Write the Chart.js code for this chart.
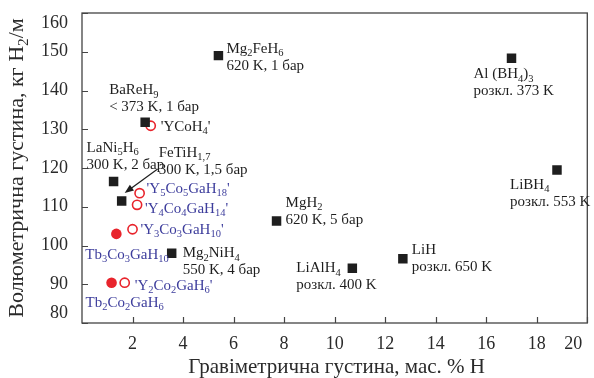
<!DOCTYPE html>
<html>
<head>
<meta charset="utf-8">
<script src="https://cdn.jsdelivr.net/npm/chart.js@4.4.1/dist/chart.umd.min.js"></script>
<style>
  html, body { margin: 0; padding: 0; background: #fff; }
  #chart { display: block; }
</style>
</head>
<body>
<canvas id="chart" width="594" height="378"></canvas>
<script>
// Known hydrides (black squares)
var hydrideNames = ['Mg_{2}FeH_{6}', 'Al (BH_{4})_{3}', 'BaReH_{9}', 'LaNi_{5}H_{6}', 'FeTiH_{1,7}',
                    'Mg_{2}NiH_{4}', 'MgH_{2}', 'LiAlH_{4}', 'LiH', 'LiBH_{4}'];
var hydrideNotes = ['620 K, 1 бар', 'розкл. 373 K', '< 373 K, 1 бар', '300 K, 2 бар', '300 K, 1,5 бар',
                    '550 K, 4 бар', '620 K, 5 бар', 'розкл. 400 K', 'розкл. 650 K', 'розкл. 553 K'];
var hydrideWt  = [5.4, 17.0, 2.5, 1.25, 1.57, 3.55, 7.7, 10.7, 12.7, 18.8];
var hydrideVol = [149, 148.3, 131.8, 116.5, 111.5, 98, 106.3, 94.1, 96.6, 119.5];

// Y-Co(-Ga) hydrides (open red circles)
var yNames = ["'YCoH_{4}'", "'Y_{5}Co_{5}GaH_{18}'", "'Y_{4}Co_{4}GaH_{14}'", "'Y_{3}Co_{3}GaH_{10}'", "'Y_{2}Co_{2}GaH_{6}'"];
var yWt  = [2.72, 2.28, 2.18, 2.0, 1.69];
var yVol = [130.9, 113.5, 110.5, 104.2, 90.4];

// Tb-Co-Ga hydrides (filled red circles)
var tbNames = ['Tb_{3}Co_{3}GaH_{10}', 'Tb_{2}Co_{2}GaH_{6}'];
var tbWt  = [1.36, 1.17];
var tbVol = [103, 90.4];

var xTicks = [2, 4, 6, 8, 10, 12, 14, 16, 18, 20];
var yTicks = [80, 90, 100, 110, 120, 130, 140, 150, 160];

var xTitle = 'Гравіметрична густина, мас. % H';
var yTitle = 'Волюметрична густина, кг H_{2}/м';

// label placement (offset of first line from the marker, px)
var hydrideLabelPos = [[8,-8],[-38,15],[-36,-33],[-27,-35],[37,-49],[11,-1],[9,-19],[-56,-1],[9,-10],[-47,14]];
var yLabelPos = [[10,0],[7,-5],[8,3],[8,0],[10,2]];
var tbLabelPos = [[-31,20],[-26,19]];

var SERIF = '"Liberation Serif", "DejaVu Serif", serif';
var BLUE = '#3d3d9c';
var RED = '#e8242c';
var INK = '#1e1e1e';

function toPoints(xs, ys) {
  return xs.map(function (x, i) { return { x: x, y: ys[i] }; });
}

// text with _{...} subscripts
function parseRich(s) {
  var parts = [], re = /_\{([^}]*)\}/g, last = 0, m;
  while ((m = re.exec(s))) {
    if (m.index > last) parts.push({ t: s.slice(last, m.index), sub: false });
    parts.push({ t: m[1], sub: true });
    last = re.lastIndex;
  }
  if (last < s.length) parts.push({ t: s.slice(last), sub: false });
  return parts;
}
function richWidth(ctx, s, size) {
  var w = 0;
  parseRich(s).forEach(function (p) {
    ctx.font = (p.sub ? size * 0.7 : size) + 'px ' + SERIF;
    w += ctx.measureText(p.t).width;
  });
  return w;
}
function drawRich(ctx, s, x, y, size, color, align) {
  var w = richWidth(ctx, s, size);
  if (align === 'center') x -= w / 2;
  var base = y + size * 0.33;
  ctx.fillStyle = color;
  ctx.textAlign = 'left';
  ctx.textBaseline = 'alphabetic';
  parseRich(s).forEach(function (p) {
    ctx.font = (p.sub ? size * 0.7 : size) + 'px ' + SERIF;
    ctx.fillText(p.t, x, p.sub ? base + size * 0.22 : base);
    x += ctx.measureText(p.t).width;
  });
}

var decorPlugin = {
  id: 'decor',
  beforeDatasetsDraw: function (chart) {
    var ctx = chart.ctx, a = chart.chartArea;
    var xs = chart.scales.x, ys = chart.scales.y;
    ctx.save();
    ctx.strokeStyle = '#444';
    ctx.lineWidth = 1.3;
    ctx.strokeRect(a.left, a.top, a.right - a.left, a.bottom - a.top);
    ctx.lineWidth = 1.2;
    ctx.beginPath();
    xTicks.forEach(function (v) {
      var px = Math.round(xs.getPixelForValue(v)) + 0.5;
      ctx.moveTo(px, a.bottom); ctx.lineTo(px, a.bottom - 6);
    });
    yTicks.forEach(function (v) {
      var py = Math.round(ys.getPixelForValue(v)) + 0.5;
      ctx.moveTo(a.left, py); ctx.lineTo(a.left + 6, py);
    });
    ctx.stroke();

    // tick labels
    ctx.font = '18px ' + SERIF;
    ctx.fillStyle = '#2a2a2a';
    ctx.textBaseline = 'middle';
    ctx.textAlign = 'center';
    xTicks.forEach(function (v) {
      var px = Math.min(xs.getPixelForValue(v), a.right - 14);
      ctx.fillText(String(v), px, a.bottom + 21);
    });
    ctx.textAlign = 'right';
    yTicks.forEach(function (v) {
      var py = Math.max(a.top + 10, Math.min(a.bottom - 10, ys.getPixelForValue(v)));
      ctx.fillText(String(v), a.left - 14, py);
    });

    // axis titles
    drawRich(ctx, xTitle, (a.left + a.right) / 2 + 2, 366, 21, '#2a2a2a', 'center');
    ctx.save();
    ctx.translate(16, (a.top + a.bottom) / 2);
    ctx.rotate(-Math.PI / 2);
    drawRich(ctx, yTitle, 0, 0, 22, '#2a2a2a', 'center');
    ctx.restore();
    ctx.restore();
  },
  afterDatasetsDraw: function (chart) {
    var ctx = chart.ctx;
    ctx.save();
    // hydride labels, two lines
    chart.getDatasetMeta(0).data.forEach(function (pt, i) {
      var x = pt.x + hydrideLabelPos[i][0], y = pt.y + hydrideLabelPos[i][1];
      drawRich(ctx, hydrideNames[i], x, y, 15, INK, 'left');
      drawRich(ctx, hydrideNotes[i], x, y + 17, 15, INK, 'left');
    });
    chart.getDatasetMeta(1).data.forEach(function (pt, i) {
      drawRich(ctx, yNames[i], pt.x + yLabelPos[i][0], pt.y + yLabelPos[i][1], 15, i === 0 ? INK : BLUE, 'left');
    });
    chart.getDatasetMeta(2).data.forEach(function (pt, i) {
      drawRich(ctx, tbNames[i], pt.x + tbLabelPos[i][0], pt.y + tbLabelPos[i][1], 15, BLUE, 'left');
    });

    // arrow to FeTiH1,7
    var fe = chart.getDatasetMeta(0).data[4];
    var x0 = fe.x + 36, y0 = fe.y - 32, x1 = fe.x + 3, y1 = fe.y - 8;
    var ang = Math.atan2(y1 - y0, x1 - x0);
    ctx.strokeStyle = INK;
    ctx.fillStyle = INK;
    ctx.lineWidth = 1.2;
    ctx.beginPath();
    ctx.moveTo(x0, y0);
    ctx.lineTo(x1 - 6 * Math.cos(ang), y1 - 6 * Math.sin(ang));
    ctx.stroke();
    ctx.beginPath();
    ctx.moveTo(x1, y1);
    ctx.lineTo(x1 - 9 * Math.cos(ang) + 3.5 * Math.sin(ang), y1 - 9 * Math.sin(ang) - 3.5 * Math.cos(ang));
    ctx.lineTo(x1 - 9 * Math.cos(ang) - 3.5 * Math.sin(ang), y1 - 9 * Math.sin(ang) + 3.5 * Math.cos(ang));
    ctx.closePath();
    ctx.fill();
    ctx.restore();
  }
};

var chart = new Chart(document.getElementById('chart'), {
  type: 'scatter',
  data: {
    datasets: [{
      label: 'Гідриди',
      data: toPoints(hydrideWt, hydrideVol),
      pointStyle: 'rect',
      pointRadius: 6.7,
      backgroundColor: INK,
      borderWidth: 0
    }, {
      label: 'Y-Co-Ga',
      data: toPoints(yWt, yVol),
      pointStyle: 'circle',
      pointRadius: 4.6,
      backgroundColor: '#fff',
      borderColor: RED,
      borderWidth: 1.6
    }, {
      label: 'Tb-Co-Ga',
      data: toPoints(tbWt, tbVol),
      pointStyle: 'circle',
      pointRadius: 5.3,
      backgroundColor: RED,
      borderWidth: 0
    }]
  },
  options: {
    responsive: false,
    animation: false,
    devicePixelRatio: 1,
    layout: { padding: { top: 13, right: 4, left: 0, bottom: 0 } },
    plugins: { legend: { display: false }, tooltip: { enabled: false } },
    scales: {
      x: {
        type: 'linear', min: 0, max: 20,
        grid: { display: false }, border: { display: false },
        ticks: { display: false },
        afterFit: function (s) { s.height = 55; }
      },
      y: {
        type: 'linear', min: 80, max: 160,
        grid: { display: false }, border: { display: false },
        ticks: { display: false },
        afterFit: function (s) { s.width = 82; }
      }
    }
  },
  plugins: [decorPlugin]
});
</script>
</body>
</html>
